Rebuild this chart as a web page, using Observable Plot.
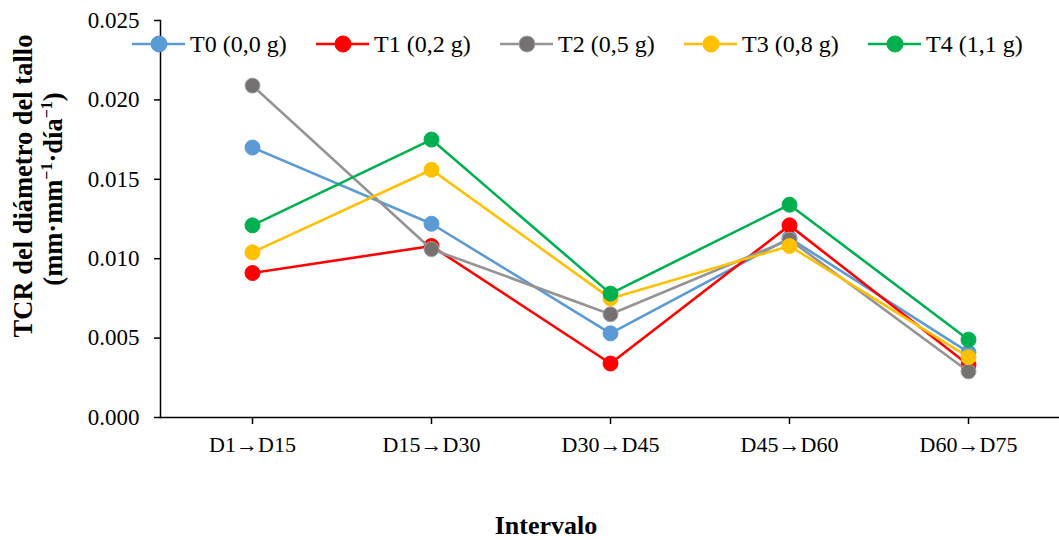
<!DOCTYPE html>
<html><head><meta charset="utf-8">
<script src="https://cdn.jsdelivr.net/npm/d3@7"></script>
<script src="https://cdn.jsdelivr.net/npm/@observablehq/plot@0.6"></script>
<style>
body{margin:0;background:#fff}
svg{font-family:"Liberation Serif","Times New Roman",serif}
</style>
</head><body><div id="chart"></div>
<script>
const intervals = ["D1→D15","D15→D30","D30→D45","D45→D60","D60→D75"];
const seriesNames = ["T0 (0,0 g)","T1 (0,2 g)","T2 (0,5 g)","T3 (0,8 g)","T4 (1,1 g)"];
const T0 = [0.0170,0.0122,0.0053,0.0113,0.0041];
const T1 = [0.0091,0.0108,0.0034,0.0121,0.0033];
const T2 = [0.0209,0.0106,0.0065,0.0112,0.0029];
const T3 = [0.0104,0.0156,0.0075,0.0108,0.0038];
const T4 = [0.0121,0.0175,0.0078,0.0134,0.0049];
const yTicks = [0,0.005,0.010,0.015,0.020,0.025];
const lineColors = ["#5B9BD5","#FF0000","#949494","#FFC000","#00B050"];
const dotFills = ["#5B9BD5","#FF0000","#767171","#FFC000","#00B050"];
const dotStrokes = ["#5B9BD5","#FF0000","#A6A6A6","#FFC000","#00B050"];
const yTitle1 = "TCR del diámetro del tallo";
const xTitle = "Intervalo";

const allSeries = [T0,T1,T2,T3,T4];
const rows = [];
allSeries.forEach((vals, s) => vals.forEach((v, i) => rows.push({series: seriesNames[s], interval: intervals[i], value: v})));

const marks = [
  Plot.frame({anchor: "left", stroke: "#000", strokeWidth: 1.5}),
  Plot.frame({anchor: "bottom", stroke: "#000", strokeWidth: 1.5}),
  Plot.axisY({ticks: yTicks, tickFormat: d3.format(".3f"), tickSize: 6, tickPadding: 15, fontSize: 23, label: null, stroke: "#000", strokeWidth: 1.5}),
  Plot.axisX({tickSize: 7, tickPadding: 12, fontSize: 22, label: null, stroke: "#000", strokeWidth: 1.5})
];
seriesNames.forEach((name, s) => {
  const d = rows.filter(r => r.series === name);
  marks.push(Plot.line(d, {x: "interval", y: "value", stroke: lineColors[s], strokeWidth: 2.6}));
  marks.push(Plot.dot(d, {x: "interval", y: "value", r: 7.5, fill: dotFills[s], stroke: dotStrokes[s], strokeWidth: 1}));
});

const chart = Plot.plot({
  width: 1059, height: 540,
  marginLeft: 160, marginRight: 0, marginTop: 20, marginBottom: 123,
  style: {fontFamily: '"Liberation Serif","Times New Roman",serif', color: "#000", background: "#fff"},
  x: {type: "point", domain: intervals, padding: 0.5},
  y: {domain: [0, 0.025]},
  marks
});
document.getElementById("chart").appendChild(chart);

const svg = d3.select(chart);
// legend
const leg = svg.append("g");
seriesNames.forEach((name, s) => {
  const x0 = 132 + s * 184, y0 = 44;
  leg.append("line").attr("x1", x0).attr("x2", x0 + 53).attr("y1", y0).attr("y2", y0)
    .attr("stroke", lineColors[s]).attr("stroke-width", 2.6);
  leg.append("circle").attr("cx", x0 + 27).attr("cy", y0).attr("r", 8)
    .attr("fill", dotFills[s]).attr("stroke", dotStrokes[s]).attr("stroke-width", 1);
  leg.append("text").attr("x", x0 + 58).attr("y", y0 + 8).attr("text-anchor", "start")
    .attr("font-size", 24).attr("fill", "#000").text(name);
});
// y title
svg.append("text").attr("transform", "translate(32,186) rotate(-90)")
  .attr("text-anchor", "middle").attr("font-size", 26.5).attr("font-weight", "bold").text(yTitle1);
const t2 = svg.append("text").attr("transform", "translate(62,189) rotate(-90)")
  .attr("text-anchor", "middle").attr("font-size", 26.5).attr("font-weight", "bold");
t2.append("tspan").text("(mm·mm");
t2.append("tspan").attr("font-size", 16).attr("dy", -10).text("−1");
t2.append("tspan").attr("dy", 10).text("·día");
t2.append("tspan").attr("font-size", 16).attr("dy", -10).text("−1");
t2.append("tspan").attr("dy", 10).text(")");
// x title
svg.append("text").attr("x", 546).attr("y", 534).attr("text-anchor", "middle")
  .attr("font-size", 26).attr("font-weight", "bold").text(xTitle);
</script>
</body></html>
